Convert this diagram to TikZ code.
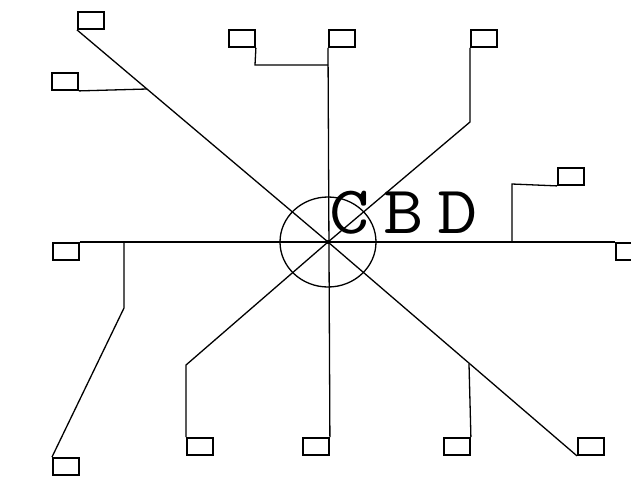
\documentclass[tikz,border=0pt]{standalone}
\begin{document}
\begin{tikzpicture}[x=1pt,y=-1pt,
  box/.style={draw, line width=1.9pt, minimum width=26pt, minimum height=17pt, inner sep=0pt, anchor=north west},
  ln/.style={line width=1.3pt}]
\useasboundingbox (0,0) rectangle (631,477);
\fill[white] (0,0) rectangle (631,477);
% boxes
\node[box] (A) at (77,11) {};
\node[box] (B) at (51,72) {};
\node[box] (C) at (228,29) {};
\node[box] (D) at (328,29) {};
\node[box] (E) at (470,29) {};
\node[box] (F) at (52,242) {};
\node[box] (G) at (615,242) {};
\node[box] (H) at (557,167) {};
\node[box] (I) at (52,457) {};
\node[box] (J) at (186,437) {};
\node[box] (K) at (302,437) {};
\node[box] (L) at (443,437) {};
\node[box] (M) at (577,437) {};
% junction points
\coordinate (O) at (328,242);
\coordinate (b1) at (147,89);
\coordinate (c1) at (255,65);
\coordinate (c2) at (328,65);
\coordinate (e1) at (470,122);
\coordinate (j1) at (186,365);
\coordinate (h0) at (512,242);
\coordinate (h1) at (512,184);
\coordinate (i0) at (124,242);
\coordinate (i1) at (124,308);
\coordinate (l1) at (469,364);
% circle
\draw[ln] (O) ellipse [x radius=48, y radius=45];
% connectors
\draw[ln] (A.south west) -- (O) -- (M.south west);
\draw[ln] (B.south east) -- (b1);
\draw[ln] (D.south west) -- (K.north east);
\draw[ln] (C.south east) -- (c1) -- (c2);
\draw[ln] (E.south west) -- (e1) -- (O) -- (j1) -- (J.north west);
\draw[ln] (F.north east) -- (G.north west);
\draw[ln] (h0) -- (h1) -- (H.south west);
\draw[ln] (i0) -- (i1) -- (I.north west);
\draw[ln] (l1) -- (L.north east);
\fill (O) circle (2);
% label
\node[anchor=base west, inner sep=0pt, xscale=1.15, font=\ttfamily\fontsize{68}{68}\selectfont] (cbd) at (329,233) {C\hspace{12pt}B\hspace{12pt}D};
\end{tikzpicture}
\end{document}
